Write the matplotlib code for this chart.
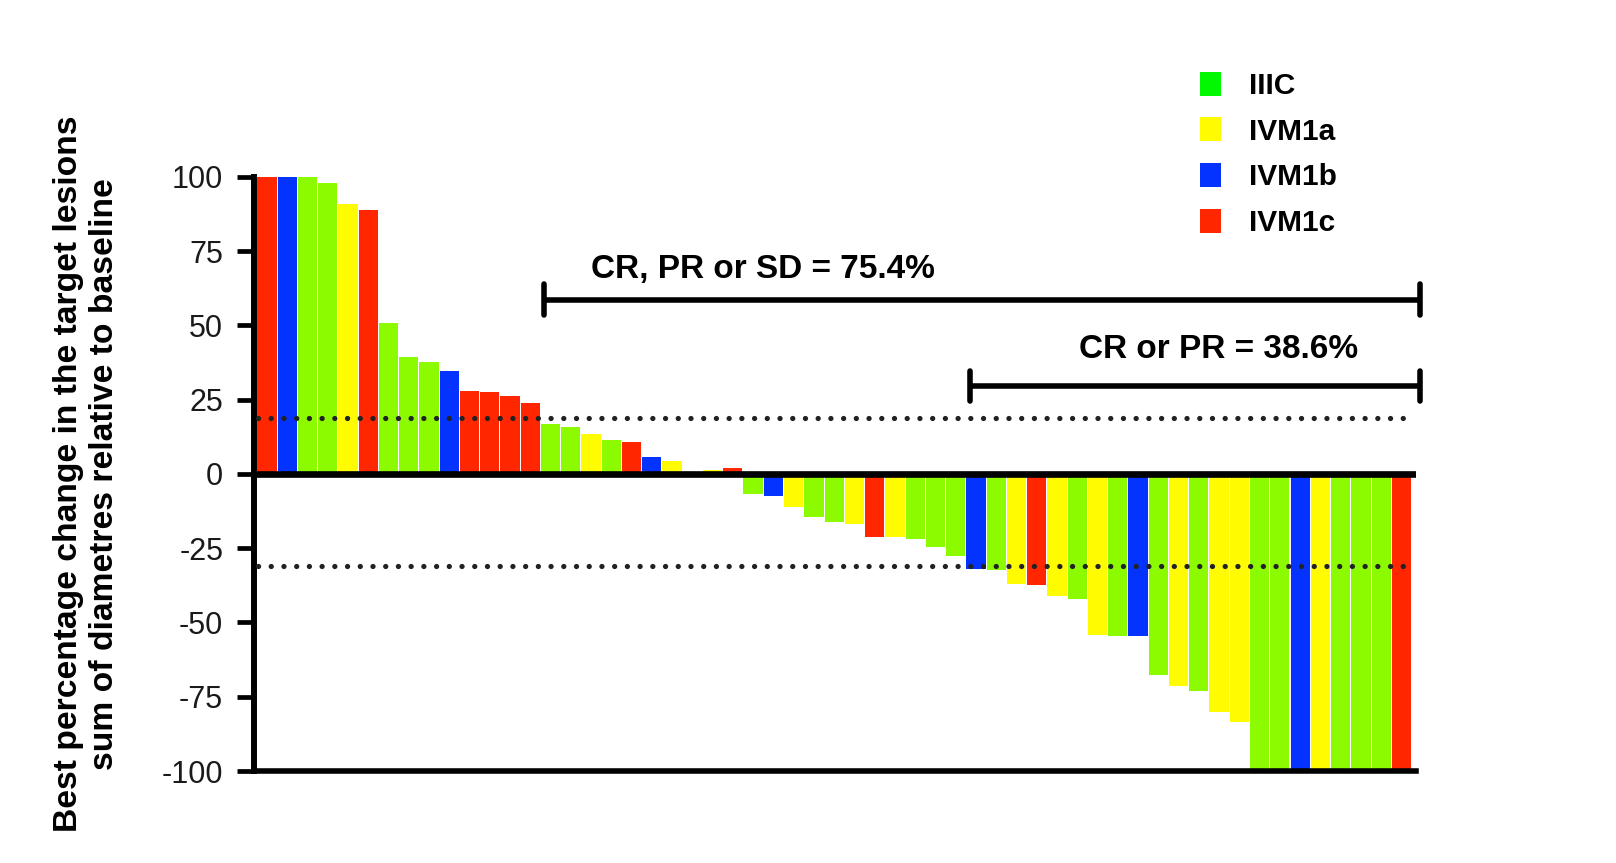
import matplotlib
matplotlib.use('Agg')
import matplotlib.pyplot as plt
from matplotlib.patches import Patch

plt.rcParams['font.family'] = ['Liberation Sans', 'DejaVu Sans']
plt.rcParams['axes.unicode_minus'] = False

# Stage of each patient, in waterfall order
patient_stage = [
    'IVM1c', 'IVM1b', 'IIIC', 'IIIC', 'IVM1a', 'IVM1c', 'IIIC', 'IIIC', 'IIIC', 'IVM1b',
    'IVM1c', 'IVM1c', 'IVM1c', 'IVM1c', 'IIIC', 'IIIC', 'IVM1a', 'IIIC', 'IVM1c', 'IVM1b',
    'IVM1a', 'IIIC', 'IVM1a', 'IVM1c', 'IIIC', 'IVM1b', 'IVM1a', 'IIIC', 'IIIC', 'IVM1a',
    'IVM1c', 'IVM1a', 'IIIC', 'IIIC', 'IIIC', 'IVM1b', 'IIIC', 'IVM1a', 'IVM1c', 'IVM1a',
    'IIIC', 'IVM1a', 'IIIC', 'IVM1b', 'IIIC', 'IVM1a', 'IIIC', 'IVM1a', 'IVM1a', 'IIIC',
    'IIIC', 'IVM1b', 'IVM1a', 'IIIC', 'IIIC', 'IIIC', 'IVM1c',
]

# Best percentage change in sum of target lesion diameters
best_change = [
    100, 100, 100, 98.0, 90.9, 89.0, 50.8, 39.3, 37.7, 34.7,
    27.9, 27.6, 26.2, 24.0, 16.8, 15.9, 13.4, 11.4, 10.8, 5.7,
    4.5, 0, 1.5, 2.0, -6.7, -7.5, -11.1, -14.4, -16.3, -16.8,
    -21.2, -21.2, -21.8, -24.7, -27.7, -32.0, -32.5, -37.1, -37.4, -41.1,
    -42.2, -54.1, -54.4, -54.7, -67.7, -71.3, -73.0, -80.0, -83.4, -100,
    -100, -100, -100, -100, -100, -100, -100,
]

stages = ['IIIC', 'IVM1a', 'IVM1b', 'IVM1c']
bar_colors = {'IIIC': '#8CFB00', 'IVM1a': '#FFFB00', 'IVM1b': '#0433FF', 'IVM1c': '#FF2600'}
legend_colors = {'IIIC': '#00F900', 'IVM1a': '#FFFB00', 'IVM1b': '#0433FF', 'IVM1c': '#FF2600'}

# reference lines drawn on the chart
progression_line = 19
response_line = -31

n = len(best_change)
x = list(range(n))
colors = [bar_colors[s] for s in patient_stage]

fig = plt.figure(figsize=(16.16, 8.63), dpi=100)
ax = fig.add_axes([0.157, 0.1066, 0.719, 0.6884])

ax.bar(x, best_change, width=0.95, color=colors, linewidth=0, zorder=2)

# zero line and dotted threshold lines
ax.axhline(0, color='black', linewidth=4.8, zorder=3)
for yv in (progression_line, response_line):
    ax.plot([-0.45, n - 0.5], [yv, yv], color='#222222', linewidth=3.8,
            linestyle=(0, (0.01, 2.4)), dash_capstyle='round', zorder=4)

ax.set_xlim(-0.65, n - 0.3)
ax.set_ylim(-100, 100)
ax.set_xticks([])
ax.set_yticks(range(-100, 101, 25))
ax.tick_params(axis='y', length=12, width=3.4, pad=10, labelsize=22, labelcolor='#1a1a1a')

for side in ('top', 'right'):
    ax.spines[side].set_visible(False)
ax.spines['left'].set_linewidth(4.3)
ax.spines['bottom'].set_linewidth(4.0)

# response brackets
sd_count = sum(1 for v in best_change if v < 20)
pr_count = sum(1 for v in best_change if v <= -30)
end_x = n - 0.1
for count, yv, cap in ((sd_count, 58.6, 5.2), (pr_count, 29.6, 5.2)):
    start_x = n - count - 0.3
    ax.plot([start_x, end_x], [yv, yv], color='black', linewidth=4, clip_on=False,
            solid_capstyle='butt')
    for xe in (start_x, end_x):
        ax.plot([xe, xe], [yv - cap, yv + cap], color='black', linewidth=4,
                clip_on=False, solid_capstyle='round')

ax.text(24.5, 68.7, f'CR, PR or SD = {100 * sd_count / n:.1f}%', fontsize=24,
        fontweight='bold', ha='center', va='center')
ax.text(46.96, 41.9, f'CR or PR = {100 * pr_count / n:.1f}%', fontsize=24,
        fontweight='bold', ha='center', va='center')

fig.text(0.0535, 1 - 474 / 863,
         'Best percentage change in the target lesions\nsum of diametres relative to baseline',
         rotation=90, ha='center', va='center', fontsize=24.2, fontweight='bold',
         linespacing=1.2, multialignment='center')

handles = [Patch(facecolor=legend_colors[s], edgecolor='none') for s in stages]
leg = fig.legend(handles, stages, loc='upper left', bbox_to_anchor=(0.7426, 0.917),
                 frameon=False, borderpad=0, borderaxespad=0,
                 handlelength=0.69, handleheight=0.86,
                 handletextpad=0.95, labelspacing=0.58,
                 prop={'weight': 'bold', 'size': 21.5})

fig.savefig('out.png', dpi=100)
